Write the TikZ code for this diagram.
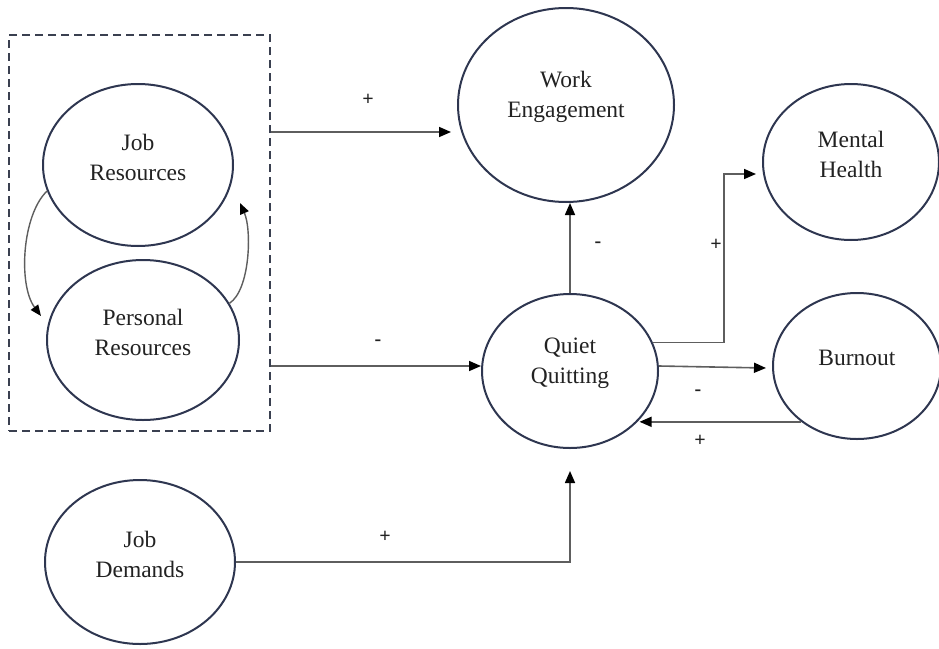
\documentclass[tikz,border=0pt]{standalone}
\usepackage{fontspec}
\setmainfont{Liberation Serif}
\usetikzlibrary{shapes.geometric,arrows.meta,calc}
\definecolor{ellc}{HTML}{2E3650}
\definecolor{boxc}{HTML}{3A4050}
\definecolor{linec}{HTML}{5E5E5E}
\definecolor{txtc}{HTML}{222222}
\begin{document}
\begin{tikzpicture}[x=1pt,y=-1pt,
  ell/.style={ellipse, draw=ellc, line width=2pt, inner sep=0pt},
  lab/.style={align=center, text=txtc, font=\fontsize{23.5}{30}\selectfont, yshift=8pt},
  arr/.style={draw=linec, line width=1.6pt, -{Triangle[length=12pt,width=10pt,color=black]}},
  carr/.style={draw=linec, line width=1.4pt, -{Triangle[length=11pt,width=9pt,color=black]}},
  sgn/.style={text=txtc, font=\fontsize{20}{20}\bfseries\selectfont, inner sep=0pt}]
\useasboundingbox (0,0) rectangle (939,648);

% dashed group box
\node[draw=boxc, line width=2pt, dash pattern=on 8pt off 5pt,
      minimum width=261pt, minimum height=396pt, inner sep=0pt] (box) at (139.5,233) {};

% constructs
\node[ell, minimum width=190pt, minimum height=162pt, label={[lab]center:Job\\Resources}] (jr) at (138,165) {};
\node[ell, minimum width=192pt, minimum height=160pt, label={[lab]center:Personal\\Resources}] (pr) at (143,340) {};
\node[ell, minimum width=216pt, minimum height=194pt, label={[lab]center:Work\\Engagement}] (we) at (566,105) {};
\node[ell, minimum width=176pt, minimum height=156pt, label={[lab]center:Mental\\Health}] (mh) at (851,162) {};
\node[ell, minimum width=168pt, minimum height=146pt, label={[lab]center:Burnout}] (bo) at (857,366) {};
\node[ell, minimum width=176pt, minimum height=154pt, label={[lab]center:Quiet\\Quitting}] (qq) at (570,371) {};
\node[ell, minimum width=190pt, minimum height=164pt, label={[lab]center:Job\\Demands}] (jd) at (140,562) {};

% curved arrows between resources
\coordinate (c1) at (41,316);
\coordinate (c2) at (240,203);
\draw[carr] (jr.196) .. controls (22,215) and (18,285) .. (c1);
\draw[carr] (pr.23) .. controls (250,290) and (252,230) .. (c2);

% connectors
\draw[arr, shorten >=6pt] (box.east |- 0,132) -- (we.west |- 0,132);
\draw[arr] (box.east |- 0,366) -- (qq.west |- 0,366);
\draw[arr] (jd.east) -| ([yshift=-22pt]qq.south);
\draw[arr] (qq.north) -- (qq.north |- we.south);
\draw[arr, shorten >=6pt] (qq.19) -- ++(71,0) |- ([yshift=-12pt]mh.west);
\draw[arr] (qq.east |- 0,366) -- ([xshift=-6pt,yshift=-2pt]bo.west);
\draw[arr] (bo.225) -- (bo.225 -| qq.325);

% signs
\node[sgn] (s1) at (368,100) {+};
\node[sgn] (s2) at (378,343) {-};
\node[sgn] (s3) at (385,537) {+};
\node[sgn] (s4) at (598,245) {-};
\node[sgn] (s5) at (716,245) {+};
\node[sgn] (s6) at (698,393) {-};
\node[sgn] (s7) at (700,441) {+};
\end{tikzpicture}
\end{document}
